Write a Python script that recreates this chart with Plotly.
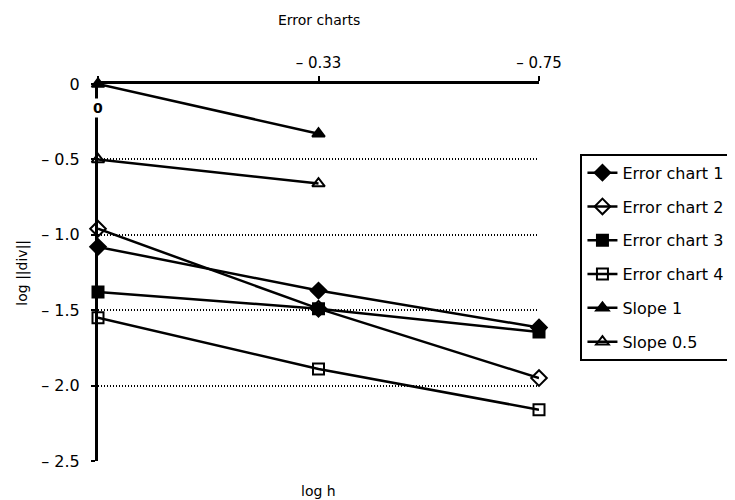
import plotly.graph_objects as go

# ---- data ----
x_cats = ["0", "-0.33", "-0.75"]
x_labels = ["0", "– 0.33", "– 0.75"]

error_chart_1 = [-1.08, -1.37, -1.615]
error_chart_2 = [-0.96, -1.49, -1.95]
error_chart_3 = [-1.38, -1.49, -1.645]
error_chart_4 = [-1.55, -1.89, -2.16]
slope_1 = [0.0, -0.33]
slope_05 = [-0.50, -0.66]

y_ticks = [0, -0.5, -1.0, -1.5, -2.0, -2.5]
y_ticktext = ["0", "– 0.5", "– 1.0", "– 1.5", "– 2.0", "– 2.5"]

FONT = "DejaVu Sans"

series = [
    ("Error chart 1", x_cats, error_chart_1, "diamond", 12),
    ("Error chart 2", x_cats, error_chart_2, "diamond-open", 12),
    ("Error chart 3", x_cats, error_chart_3, "square", 11),
    ("Error chart 4", x_cats, error_chart_4, "square-open", 11),
    ("Slope 1", x_cats[:2], slope_1, "triangle-up", 11),
    ("Slope 0.5", x_cats[:2], slope_05, "triangle-up-open", 11),
]

fig = go.Figure()
for name, xs, ys, sym, sz in series:
    fig.add_trace(go.Scatter(
        x=xs, y=ys, name=name, mode="lines+markers", legendgroup=name,
        line=dict(color="black", width=2.5),
        marker=dict(symbol=sym, size=sz, color="black",
                    line=dict(color="black", width=2)),
        cliponaxis=False,
    ))

fig.update_layout(
    width=735, height=500,
    margin=dict(l=90, r=200, t=76, b=47, pad=0),
    paper_bgcolor="white", plot_bgcolor="white",
    font=dict(family=FONT, size=15, color="black"),
    showlegend=True,
    legend=dict(
        x=1.094, y=0.815, xanchor="left", yanchor="top",
        bordercolor="black", borderwidth=2, bgcolor="white",
        font=dict(family=FONT, size=16, color="black"),
        tracegroupgap=10, traceorder="grouped", itemwidth=30,
    ),
    xaxis=dict(
        type="category", categoryorder="array", categoryarray=x_cats,
        range=[0, 2], side="top", showline=True, linecolor="black",
        linewidth=2.5, showgrid=False, zeroline=False,
        ticks="outside", ticklen=5, tickwidth=2, tickcolor="black",
        tickvals=x_cats, ticktext=[""] + x_labels[1:],
        tickfont=dict(family=FONT, size=15), ticklabelstandoff=2,
    ),
    yaxis=dict(
        range=[-2.5, 0], showline=True, linecolor="black", linewidth=3,
        zeroline=False, showgrid=True, gridcolor="black", gridwidth=1.5,
        griddash="1px,2px", tickvals=y_ticks, ticktext=y_ticktext,
        ticks="outside", ticklen=4, tickwidth=2, tickcolor="black",
        tickfont=dict(family=FONT, size=16), ticklabelstandoff=8,
    ),
    annotations=[
        dict(text="Error charts", xref="paper", yref="paper", x=0.5, y=1,
             yshift=64, showarrow=False, xanchor="center", yanchor="middle",
             font=dict(family=FONT, size=14)),
        dict(text="log h", xref="paper", yref="paper", x=0.5, y=0,
             yshift=-30, showarrow=False, xanchor="center", yanchor="middle",
             font=dict(family=FONT, size=14)),
        dict(text="log ||div||", xref="paper", yref="paper", x=-0.172, y=0.5,
             textangle=-90, showarrow=False, xanchor="center",
             yanchor="middle", font=dict(family=FONT, size=14)),
        dict(text="<b>" + x_labels[0] + "</b>", xref="x", x=x_cats[0],
             yref="paper", y=1, yshift=-24, showarrow=False,
             xanchor="center", yanchor="middle", bgcolor="white",
             font=dict(family=FONT, size=14)),
    ],
)

fig.write_html("out.html")
